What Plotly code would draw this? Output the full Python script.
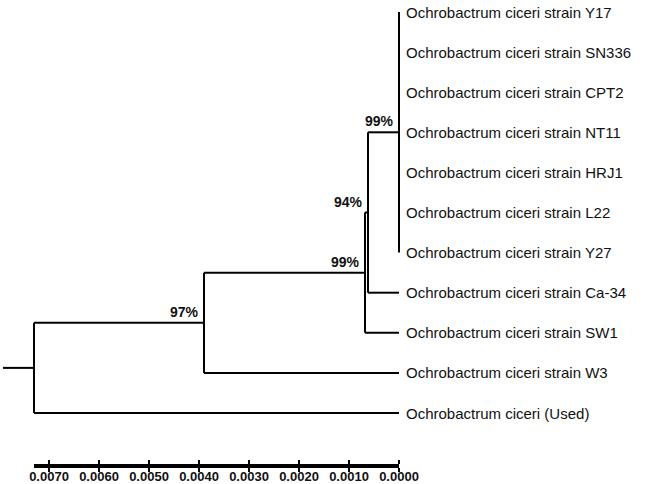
import plotly.graph_objects as go

# leaves, top to bottom
taxa = [
    "Ochrobactrum ciceri strain Y17",
    "Ochrobactrum ciceri strain SN336",
    "Ochrobactrum ciceri strain CPT2",
    "Ochrobactrum ciceri strain NT11",
    "Ochrobactrum ciceri strain HRJ1",
    "Ochrobactrum ciceri strain L22",
    "Ochrobactrum ciceri strain Y27",
    "Ochrobactrum ciceri strain Ca-34",
    "Ochrobactrum ciceri strain SW1",
    "Ochrobactrum ciceri strain W3",
    "Ochrobactrum ciceri (Used)",
]

# internal nodes: children are leaf indices or ("n", k) for node k
node_children = [
    [0, 1, 2, 3, 4, 5, 6],
    [("n", 0), 7],
    [("n", 1), 8],
    [("n", 2), 9],
    [("n", 3), 10],
]
node_height = [0.0, 0.00062, 0.00068, 0.0039, 0.0073]
node_support = ["99%", "94%", "99%", "97%", ""]
root_stub = 0.00792

scale_ticks = [0.007, 0.006, 0.005, 0.004, 0.003, 0.002, 0.001, 0.0]

W, H = 646, 484
px_per_unit = 50000.0
tip_px = 399
leaf_top_px, leaf_step_px = 12, 40.1


def child_pos(c):
    if isinstance(c, tuple):
        k = c[1]
        return node_height[k], node_y[k]
    return 0.0, float(c)


node_y = []
xs, ys = [], []
for k, kids in enumerate(node_children):
    pos = [child_pos(c) for c in kids]
    cy = [p[1] for p in pos]
    node_y.append((min(cy) + max(cy)) / 2)
    h = node_height[k]
    # vertical bar
    xs += [h, h, None]
    ys += [min(cy), max(cy), None]
    # horizontal branches to children
    for cx, cyy in pos:
        if cx != h:
            xs += [h, cx, None]
            ys += [cyy, cyy, None]

# root stub
xs += [root_stub, node_height[-1], None]
ys += [node_y[-1], node_y[-1], None]

fig = go.Figure()
fig.add_trace(go.Scatter(x=xs, y=ys, mode="lines",
                         line=dict(color="black", width=2),
                         hoverinfo="skip", showlegend=False))

font = "Arial, Liberation Sans, sans-serif"
for i, name in enumerate(taxa):
    fig.add_annotation(x=0, y=i, text=name, showarrow=False,
                       xanchor="left", yanchor="middle", xshift=5,
                       font=dict(family=font, size=15, color="#111"))

for k, lab in enumerate(node_support):
    if lab:
        fig.add_annotation(x=node_height[k], y=node_y[k], text=lab, showarrow=False,
                           xanchor="right", yanchor="bottom", xshift=-3, yshift=1,
                           font=dict(family=font, size=14, color="#111", weight="bold"))

# scale axis as its own thin subplot
fig.add_trace(go.Scatter(x=[0.0], y=[0.0], xaxis="x2", yaxis="y2",
                         mode="markers", marker=dict(opacity=0),
                         hoverinfo="skip", showlegend=False))

x_left = (tip_px - 0) / px_per_unit
x_right = (tip_px - W) / px_per_unit
y_top = -leaf_top_px / leaf_step_px
y_bot = (H - leaf_top_px) / leaf_step_px
axis_pos = (H - 466) / H

fig.update_layout(
    width=W, height=H,
    margin=dict(l=0, r=0, t=0, b=0, autoexpand=False),
    paper_bgcolor="white", plot_bgcolor="white",
    xaxis=dict(range=[x_left, x_right], visible=False, domain=[0, 1], automargin=False),
    yaxis=dict(range=[y_bot, y_top], visible=False, domain=[0, 1], automargin=False),
    xaxis2=dict(domain=[34 / W, tip_px / W], anchor="y2", automargin=False,
                range=[node_height[-1], 0.0],
                tickvals=scale_ticks,
                ticktext=["%.4f" % v for v in scale_ticks],
                ticks="outside", ticklen=4, tickwidth=2, tickcolor="black",
                ticklabelstandoff=-7,
                showline=True, linewidth=2, linecolor="black", mirror="ticks",
                showgrid=False, zeroline=False,
                tickfont=dict(family=font, size=13, color="#111", weight="bold")),
    yaxis2=dict(domain=[axis_pos, axis_pos + 0.001], anchor="x2", visible=False,
                automargin=False),
)

# page body has a default 8px margin; drop it so the figure sits at the window origin
fig.write_html("out.html", config={"displayModeBar": False},
               post_script="document.body.style.margin='0';")
